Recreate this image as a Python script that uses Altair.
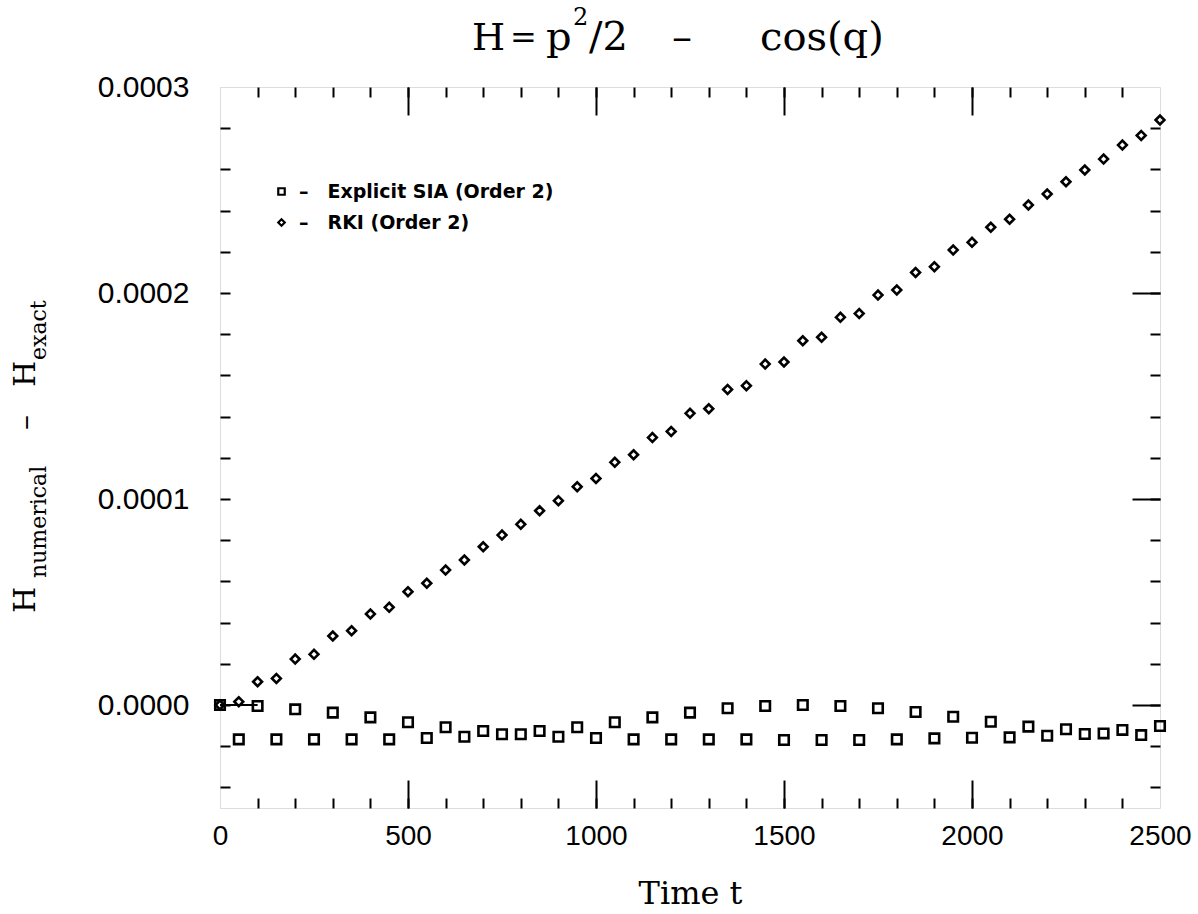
import altair as alt
import pandas as pd

# ---------------- data ----------------
t_values = list(range(0, 2501, 50))

# Explicit SIA (Order 2), units of 1e-6
sia_values = [0.0, -16.7, -0.5, -16.7, -2.1, -16.7, -3.7, -16.7, -6.0, -16.7,
              -8.4, -16.0, -10.8, -15.4, -12.6, -14.2, -14.2, -12.6, -15.4, -10.8,
              -16.0, -8.4, -16.7, -6.0, -16.7, -3.7, -16.7, -1.6, -16.7, -0.5,
              -17.0, 0.0, -17.0, -0.5, -17.0, -1.6, -16.7, -3.4, -16.2, -5.7,
              -15.9, -8.1, -15.7, -10.5, -14.9, -11.8, -14.1, -13.8, -12.1, -14.6,
              -10.2]

# RKI (Order 2), units of 1e-6
rki_values = [0.0, 1.6, 11.3, 12.9, 22.3, 24.6, 33.5, 36.1, 44.2, 47.4,
              55.0, 59.1, 65.5, 70.4, 76.8, 82.5, 87.7, 94.3, 99.2, 106.0,
              110.0, 117.8, 121.5, 129.8, 132.8, 141.6, 143.8, 153.2, 155.0, 165.5,
              166.5, 176.8, 178.5, 188.2, 190.0, 199.0, 201.5, 210.0, 212.8, 220.9,
              224.6, 231.9, 235.8, 242.7, 248.1, 254.0, 259.7, 265.0, 271.8, 276.5,
              284.0]

series_names = ["Explicit SIA (Order 2)", "RKI (Order 2)"]

segment_t = [0, 100]
segment_v = [0.0, 0.0]

x_label_values = [0, 500, 1000, 1500, 2000, 2500]
x_minor_values = list(range(100, 2500, 100))
x_major_values = [500, 1000, 1500, 2000]
y_label_values = [0.0, 0.0001, 0.0002, 0.0003]
y_minor_values = [round(k * 0.00002, 8) for k in range(-2, 15)]
y_major_values = [0.0, 0.0001, 0.0002]

# ---------------- tables ----------------
sia_df = pd.DataFrame({"t": t_values, "v": [v * 1e-6 for v in sia_values],
                       "series": series_names[0]})
rki_df = pd.DataFrame({"t": t_values, "v": [v * 1e-6 for v in rki_values],
                       "series": series_names[1]})
all_df = pd.concat([sia_df, rki_df], ignore_index=True)
seg_df = pd.DataFrame({"t": segment_t, "v": segment_v})

W, H = 940, 721
xscale = alt.Scale(domain=[0, 2500], nice=False, zero=False)
yscale = alt.Scale(domain=[-0.00005, 0.0003], nice=False, zero=False)
shape_scale = alt.Scale(domain=series_names, range=["square", "diamond"])

SANS = "Liberation Sans"
SERIF = "DejaVu Serif"


def tick_axis(orient, offset, values, size):
    return alt.Axis(orient=orient, offset=offset, values=values, tickSize=size,
                    ticks=True, labels=False, domain=False, grid=False,
                    title=None, tickColor="black", tickWidth=2)


legend = alt.Legend(orient="none", legendX=52, legendY=95, title=None,
                    labelFont="DejaVu Sans", labelFontSize=19,
                    labelFontWeight="bold",
                    labelColor="black", labelLimit=500, symbolSize=42,
                    symbolStrokeWidth=2.2,
                    symbolStrokeColor="black", symbolFillColor="transparent",
                    labelExpr="'\u2013\u2002\u2002' + datum.label",
                    rowPadding=11, labelOffset=8, padding=0)

x_label_axis = alt.Axis(orient="bottom", values=x_label_values, format="d",
                        ticks=False, domain=False, grid=False, labelFlush=False,
                        labelOverlap=False, labelFont=SANS, labelFontSize=28,
                        labelColor="black", labelPadding=14,
                        title="Time t", titleFont=SERIF, titleFontSize=32,
                        titleFontWeight="normal", titleColor="black",
                        titlePadding=28)
y_label_axis = alt.Axis(orient="left", values=y_label_values, format=".4f",
                        ticks=False, domain=False, grid=False,
                        labelFont=SANS, labelFontSize=30, labelColor="black",
                        labelPadding=31, labelOverlap=False, title=None)

squares = alt.Chart(sia_df).mark_point(
    filled=False, strokeWidth=2.6, color="black", opacity=1, size=90
).encode(
    x=alt.X("t:Q", scale=xscale, axis=x_label_axis),
    y=alt.Y("v:Q", scale=yscale, axis=y_label_axis),
    shape=alt.Shape("series:N", scale=shape_scale, legend=legend),
)

diamonds = alt.Chart(rki_df).mark_point(
    filled=False, strokeWidth=2.6, color="black", opacity=1, size=78
).encode(
    x=alt.X("t:Q", scale=xscale, axis=tick_axis("top", -H, x_minor_values, 10)),
    y=alt.Y("v:Q", scale=yscale, axis=tick_axis("right", -W, y_minor_values, 10)),
    shape=alt.Shape("series:N", scale=shape_scale, legend=legend),
)

inv1 = alt.Chart(all_df).mark_point(opacity=0).encode(
    x=alt.X("t:Q", scale=xscale, axis=tick_axis("top", -H, x_major_values, 28)),
    y=alt.Y("v:Q", scale=yscale, axis=tick_axis("left", -W, y_minor_values, 10)),
)
inv2 = alt.Chart(all_df).mark_point(opacity=0).encode(
    x=alt.X("t:Q", scale=xscale, axis=tick_axis("bottom", -H, x_minor_values, 10)),
    y=alt.Y("v:Q", scale=yscale, axis=tick_axis("left", -W, y_major_values, 28)),
)
inv3 = alt.Chart(all_df).mark_point(opacity=0).encode(
    x=alt.X("t:Q", scale=xscale, axis=tick_axis("bottom", -H, x_major_values, 28)),
    y=alt.Y("v:Q", scale=yscale, axis=None),
)

segment = alt.Chart(seg_df).mark_line(color="black", strokeWidth=2).encode(
    x=alt.X("t:Q", scale=xscale, axis=None),
    y=alt.Y("v:Q", scale=yscale, axis=None),
)

one = pd.DataFrame({"a": [0]})


def label_text(txt, gx, gy, size, angle=0):
    return alt.Chart(one).mark_text(
        text=txt, angle=angle, align="left", baseline="alphabetic",
        font=SERIF, fontSize=size, color="black"
    ).encode(x=alt.value(gx), y=alt.value(gy))


# y-axis title  H_numerical - H_exact  (rotated, composed of pieces)
ytitle = [
    label_text("H", -185, 526, 30, 270),
    label_text("numerical", -174, 491, 22, 270),
    label_text("\u2013", -185, 343, 30, 270),
    label_text("H", -185, 300, 30, 270),
    label_text("exact", -174, 273, 22, 270),
]

# chart title  H = p^2/2 - cos(q)  (composed of pieces)
title_parts = [
    label_text("H", 252, -37, 38),
    label_text("=", 290, -39, 32),
    label_text("p", 326, -37, 40),
    label_text("2", 353, -62, 24),
    label_text("/2", 369, -37, 40),
    label_text("\u2013", 452, -37, 40),
    label_text("cos(q)", 540, -37, 40),
]

chart = alt.layer(
    squares, diamonds, inv1, inv2, inv3, segment, *ytitle, *title_parts
).resolve_axis(
    x="independent", y="independent"
).properties(
    width=W, height=H,
    autosize=alt.AutoSizeParams(type="none"),
    padding={"left": 220, "top": 87, "right": 38, "bottom": 106},
).configure_view(
    stroke="black", strokeWidth=2
).configure(
    background="white"
)

chart.save("out.html", embed_options={"renderer": "svg", "actions": False})
